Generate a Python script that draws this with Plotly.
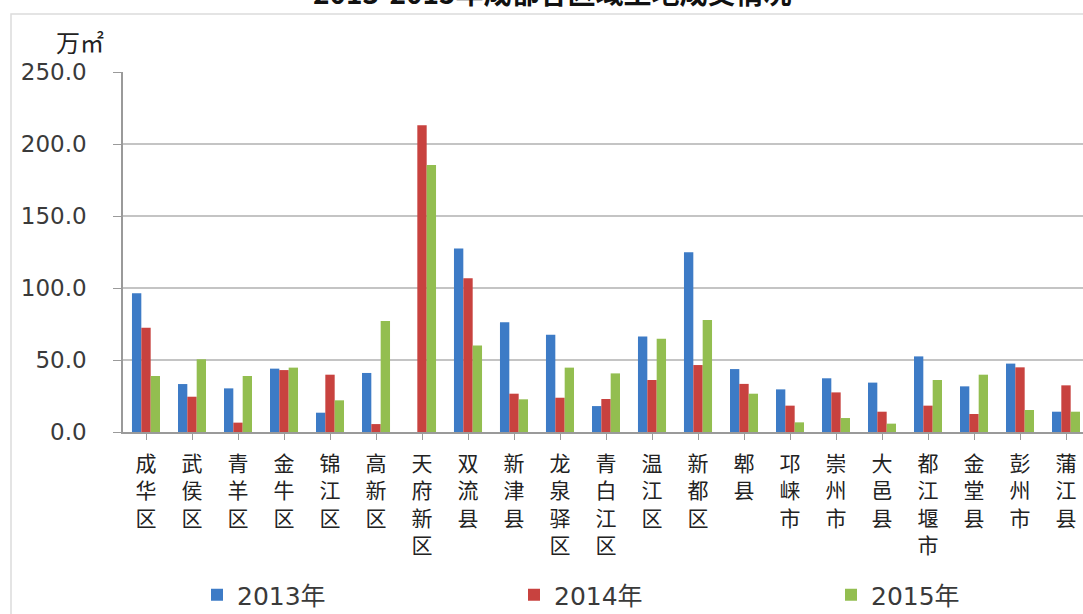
import plotly.graph_objects as go

# 区域名称（竖排显示）
districts = ["成华区", "武侯区", "青羊区", "金牛区", "锦江区", "高新区", "天府新区",
             "双流县", "新津县", "龙泉驿区", "青白江区", "温江区", "新都区", "郫县",
             "邛崃市", "崇州市", "大邑县", "都江堰市", "金堂县", "彭州市", "蒲江县"]

# 土地成交面积（万㎡）
area_2013 = [96.3, 33.3, 30.3, 44.0, 13.4, 41.0, 0.0,
             127.5, 76.2, 67.6, 18.0, 66.4, 124.8, 43.7,
             29.6, 37.3, 34.3, 52.5, 31.7, 47.5, 14.1]
area_2014 = [72.4, 24.5, 6.5, 43.0, 39.8, 5.5, 213.0,
             106.7, 26.6, 23.8, 22.9, 36.1, 46.5, 33.4,
             18.3, 27.5, 14.1, 18.3, 12.5, 44.9, 32.4]
area_2015 = [38.9, 50.5, 38.9, 44.7, 22.0, 77.0, 185.4,
             60.0, 22.7, 44.7, 40.7, 64.8, 77.8, 26.6,
             6.7, 9.7, 5.8, 36.1, 39.8, 15.3, 14.1]

series_names = ["2013年", "2014年", "2015年"]
series_colors = ["#3d7bc6", "#c8423f", "#93be50"]
legend_widths = [272, 272, None]
y_ticks = [0, 50, 100, 150, 200, 250]

FONT = "DejaVu Sans, Noto Sans CJK SC, sans-serif"
CJK = "Noto Sans CJK SC, sans-serif"

vertical_labels = ["<br>".join(list(name)) for name in districts]
x_idx = list(range(len(districts)))

fig = go.Figure()
for name, vals, color, lw in zip(series_names, [area_2013, area_2014, area_2015],
                                 series_colors, legend_widths):
    bar = go.Bar(x=x_idx, y=vals, name=name, marker_color=color, marker_line_width=0)
    if lw:
        bar.legendwidth = lw
    fig.add_trace(bar)

W, H = 1083, 614
left, top, bottom = 123, 72, 432
fig.update_layout(
    width=W, height=H,
    margin=dict(l=left, r=0, t=top, b=H - bottom, pad=0),
    paper_bgcolor="white", plot_bgcolor="white",
    barmode="group", bargap=0.39, bargroupgap=0.0,
    font=dict(family=FONT, color="#3a3a3a"),
    title=dict(text="<b>2013-2015年成都各区域土地成交情况</b>",
               font=dict(family=CJK, size=28, color="#111111"),
               xref="container", yref="container", x=0.51, xanchor="center",
               y=1 - 4 / H, yanchor="bottom"),
    legend=dict(orientation="h", xref="container", yref="container",
                x=197 / W, xanchor="left", y=19 / H, yanchor="middle",
                font=dict(family=FONT, size=25, color="#3a3a3a"),
                bgcolor="rgba(0,0,0,0)"),
    showlegend=True,
)

fig.update_xaxes(
    tickmode="array", tickvals=x_idx, ticktext=vertical_labels,
    range=[-0.5, -0.5 + (W - left) / 46.0],
    tickson="boundaries", ticks="outside", ticklen=6, tickcolor="#9a9a9a",
    tickfont=dict(family=CJK, size=21, color="#222222"),
    ticklabelstandoff=6,
    showline=True, linecolor="#9a9a9a", linewidth=1.5,
    showgrid=False, zeroline=False, fixedrange=True,
)
fig.update_yaxes(
    range=[0, 250], tickmode="array", tickvals=y_ticks,
    ticktext=[f"{v:.1f}" for v in y_ticks],
    ticks="outside", ticklen=8, tickcolor="#9a9a9a",
    tickfont=dict(family=FONT, size=23, color="#3a3a3a"),
    ticklabelstandoff=22,
    showline=True, linecolor="#9a9a9a", linewidth=1.5,
    showgrid=True, gridcolor="#c4c4c4", gridwidth=2,
    zeroline=False, fixedrange=True,
)

# 单位标注
fig.add_annotation(text="万㎡", xref="paper", yref="paper",
                   x=(80 - left) / (W - left), y=(bottom - 41) / (bottom - top),
                   showarrow=False, xanchor="center", yanchor="middle",
                   font=dict(family=CJK, size=24, color="#222222"))

# 图表外框
fig.add_shape(type="rect", xref="paper", yref="paper",
              x0=(11 - left) / (W - left), x1=1.05,
              y0=-0.6, y1=(bottom - 14) / (bottom - top),
              line=dict(color="#dcdcdc", width=1.5), layer="below")

fig.write_html("out.html")
